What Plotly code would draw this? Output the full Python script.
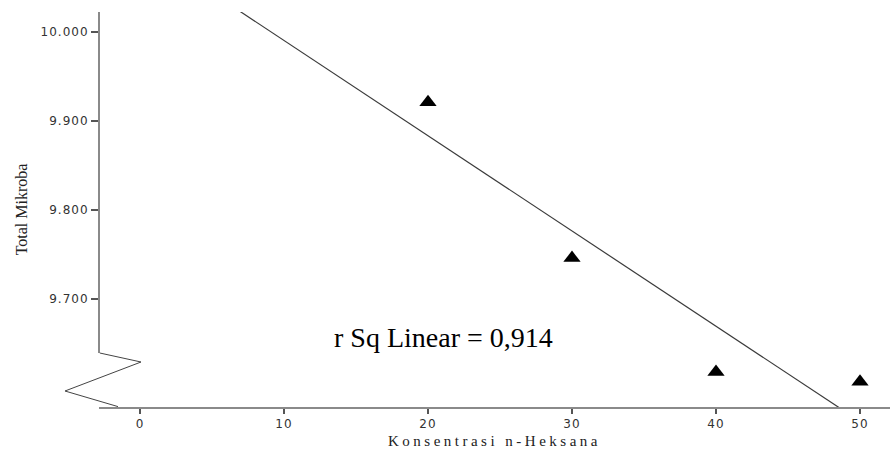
import numpy as np
import plotly.graph_objects as go

# ---- data ----
konsentrasi = [20, 30, 40, 50]
total_mikroba = [9.921, 9.746, 9.618, 9.607]
x_ticks = [0, 10, 20, 30, 40, 50]
y_ticks = [9.7, 9.8, 9.9, 10.0]
y_tick_labels = ["9.700", "9.800", "9.900", "10.000"]
r2_label = "r Sq Linear = 0,914"
x_title = "Konsentrasi n-Heksana"
y_title = "Total Mikroba"

X_RANGE = [-2.847, 52.083]
Y_RANGE = [9.5787, 10.0225]

# linear fit line (SPSS "Fit Line at Total")
slope, intercept = np.polyfit(konsentrasi, total_mikroba, 1)
fit_x = np.array(X_RANGE)
fit_y = intercept + slope * fit_x

AXIS_GREY = "#8a8a8a"
TICK_FONT = dict(family="DejaVu Sans", size=12, color="#333333")

fig = go.Figure()
fig.add_trace(go.Scatter(
    x=fit_x, y=fit_y, mode="lines",
    line=dict(color="#3a3a3a", width=1.2),
    hoverinfo="skip", showlegend=False,
))
fig.add_trace(go.Scatter(
    x=konsentrasi, y=total_mikroba, mode="markers",
    marker=dict(symbol="triangle-up", size=15, color="black"),
    showlegend=False,
))

fig.update_layout(
    width=890, height=450,
    margin=dict(l=99, r=0, t=12, b=43, pad=0),
    paper_bgcolor="white", plot_bgcolor="white",
    showlegend=False,
    xaxis=dict(
        range=X_RANGE, tickvals=x_ticks, ticktext=[str(v) for v in x_ticks],
        ticks="outside", ticklen=5, tickwidth=2, tickcolor="#555555",
        showline=True, linecolor=AXIS_GREY, linewidth=2,
        showgrid=False, zeroline=False, tickfont=TICK_FONT,
        title=dict(text=x_title, font=dict(family="Liberation Serif", size=15, color="#222222"),
                   standoff=5),
    ),
    yaxis=dict(
        range=Y_RANGE, tickvals=y_ticks, ticktext=y_tick_labels,
        ticks="outside", ticklen=7, tickwidth=1.5, tickcolor="#555555",
        showline=False, showgrid=False, zeroline=False, tickfont=TICK_FONT,
        title=dict(text=y_title, font=dict(family="Liberation Serif", size=16, color="#222222"),
                   standoff=14),
    ),
    shapes=[
        # y axis line (broken near the bottom)
        dict(type="line", xref="paper", yref="paper", x0=0, x1=0, y0=0.1367, y1=1,
             line=dict(color=AXIS_GREY, width=2)),
        # axis-break zigzag
        dict(type="path", xref="paper", yref="paper",
             path="M 0.001,0.1367 L 0.0531,0.1139 L -0.043,0.0405 L 0.024,0.001",
             line=dict(color="#444444", width=1)),
    ],
    annotations=[
        dict(text=r2_label, xref="paper", yref="paper", x=0.435, y=0.175,
             xanchor="center", yanchor="middle", showarrow=False,
             font=dict(family="Liberation Serif", size=28, color="black")),
    ],
)

post = """
var gd = document.getElementById('{plot_id}');
gd.querySelectorAll('.xtick text, .ytick text').forEach(function(t){t.style.letterSpacing='1px';});
var xt = gd.querySelector('.xtitle'); if (xt) { xt.style.letterSpacing='3.5px'; }
"""
fig.write_html("out.html", post_script=post)
